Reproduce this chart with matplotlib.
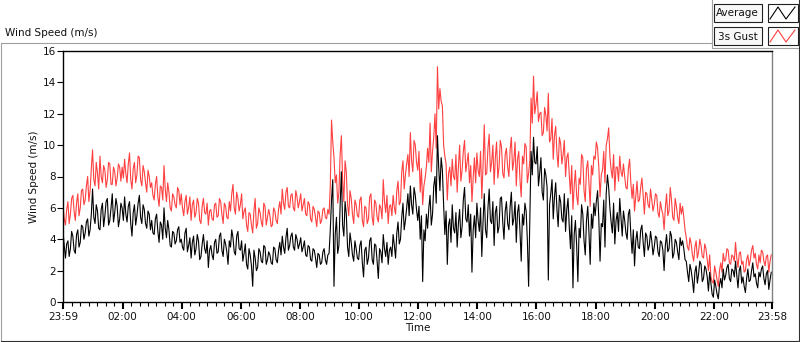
import numpy as np
import matplotlib
matplotlib.use("Agg")
import matplotlib.pyplot as plt
from matplotlib.lines import Line2D
from matplotlib.patches import Rectangle
from matplotlib.transforms import Affine2D

# samples, one row per hour (12 values, 5 min apart),
# "_a" at :59/:04/:09..., "_b" 2.5 min later
average_a = [
    4.5, 2.8, 3.9, 3.4, 4.2, 3.1, 4.6, 3.8, 4.8, 4.4, 5.3, 4.6,
    7.2, 5.0, 5.8, 4.6, 6.3, 5.5, 6.6, 5.2, 6.9, 5.7, 6.1, 5.3,
    6.0, 6.7, 5.1, 6.4, 4.2, 6.2, 5.5, 6.8, 5.0, 5.9, 4.7, 5.6,
    5.2, 4.3, 5.6, 3.8, 4.9, 6.0, 4.1, 4.6, 3.5, 4.4, 3.9, 4.8,
    4.0, 3.3, 4.7, 3.6, 2.8, 4.2, 3.4, 3.9, 2.9, 4.3, 3.1, 2.2,
    3.6, 2.7, 4.0, 3.2, 4.4, 2.9, 3.7, 2.4, 3.5, 4.1, 3.0, 4.5,
    3.3, 2.6, 3.7, 2.1, 3.0, 1.0, 2.8, 2.2, 3.2, 2.5, 3.5, 2.7,
    3.0, 2.4, 3.4, 2.5, 3.8, 4.2, 3.1, 4.7, 3.6, 4.4, 3.3, 4.0,
    3.7, 3.2, 3.9, 2.9, 3.5, 2.6, 3.3, 2.2, 3.0, 2.5, 3.4, 2.4,
    3.1, 6.5, 1.0, 5.4, 3.6, 8.3, 4.2, 5.6, 2.9, 3.8, 2.6, 3.4,
    2.7, 3.9, 1.6, 3.5, 2.8, 4.1, 2.4, 3.6, 1.5, 3.2, 4.3, 2.9,
    2.4, 3.5, 4.3, 2.8, 5.1, 4.0, 6.3, 5.2, 6.9, 7.4, 5.6, 6.8,
    5.2, 4.0, 1.3, 3.9, 4.7, 6.8, 5.6, 8.0, 10.6, 7.1, 8.4, 4.3,
    2.4, 5.3, 6.2, 4.4, 3.5, 5.9, 4.8, 7.3, 5.1, 4.2, 1.9, 5.5,
    6.3, 4.5, 2.9, 6.9, 4.1, 7.2, 5.0, 3.6, 6.1, 4.8, 6.7, 4.0,
    6.4, 4.6, 7.0, 5.3, 3.8, 6.2, 2.6, 4.9, 5.8, 1.0, 9.6, 10.5,
    8.8, 7.4, 9.2, 6.5, 8.1, 1.4, 6.9, 5.3, 7.6, 4.8, 6.4, 5.1,
    4.5, 6.6, 3.4, 0.9, 5.2, 1.3, 4.1, 5.6, 3.0, 6.1, 2.4, 4.7,
    5.5, 7.1, 2.6, 4.8, 3.5, 8.1, 6.0, 4.4, 3.7, 5.7, 6.6, 4.2,
    5.2, 4.0, 5.9, 3.1, 2.3, 4.5, 3.4, 4.9, 2.9, 4.2, 3.6, 3.9,
    3.5, 4.1, 2.9, 3.8, 2.0, 4.3, 3.4, 4.2, 3.1, 3.8, 2.7, 3.6,
    3.4, 2.6, 1.3, 2.0, 0.6, 2.3, 1.8, 2.4, 1.5, 2.1, 0.7, 1.2,
    0.3, 1.0, 0.2, 1.5, 2.1, 1.7, 2.4, 1.3, 2.0, 2.6, 0.9, 2.3,
    1.6, 0.6, 2.1, 1.4, 2.5, 1.8, 0.9, 1.6, 2.3, 1.1, 2.0, 1.4,
]
average_b = [
    3.6, 3.7, 2.9, 4.5, 3.3, 4.3, 3.5, 4.9, 4.0, 5.1, 4.2, 5.6,
    5.4, 6.2, 4.7, 5.9, 4.8, 6.4, 4.9, 6.0, 5.1, 6.6, 4.8, 6.3,
    5.2, 5.6, 6.1, 5.0, 5.7, 4.9, 6.3, 5.4, 6.2, 5.0, 5.8, 4.6,
    4.4, 5.3, 4.5, 5.1, 4.0, 4.7, 5.2, 3.6, 4.5, 3.7, 4.6, 3.8,
    3.5, 4.4, 3.2, 4.1, 3.8, 3.0, 4.3, 2.7, 3.7, 3.4, 3.9, 3.3,
    3.0, 3.8, 3.1, 4.2, 3.3, 4.0, 3.2, 3.9, 4.6, 3.2, 4.2, 3.4,
    3.9, 3.1, 2.4, 3.4, 2.3, 3.3, 2.0, 3.4, 2.6, 3.6, 2.4, 3.2,
    2.5, 3.5, 2.7, 3.3, 3.0, 3.5, 4.1, 3.3, 4.2, 3.5, 4.3, 3.4,
    4.1, 3.5, 3.0, 3.6, 2.7, 3.4, 2.8, 3.1, 2.4, 3.2, 2.7, 3.0,
    4.6, 7.8, 4.3, 3.1, 6.2, 4.9, 6.4, 3.5, 4.4, 3.0, 3.9, 2.8,
    3.6, 2.5, 3.3, 2.4, 3.9, 2.7, 3.7, 2.6, 3.4, 2.5, 3.4, 3.8,
    3.3, 2.9, 3.6, 4.4, 3.7, 5.4, 4.6, 6.0, 5.5, 6.2, 7.3, 5.9,
    6.1, 5.5, 4.6, 5.6, 6.0, 4.9, 7.4, 6.3, 8.6, 9.2, 6.2, 5.8,
    4.9, 3.8, 4.7, 5.7, 5.0, 4.1, 6.5, 5.3, 6.2, 5.6, 4.6, 4.1,
    5.2, 6.0, 5.1, 4.6, 6.0, 5.2, 6.4, 5.7, 4.4, 6.6, 5.1, 5.8,
    5.0, 6.1, 4.9, 6.4, 5.7, 4.5, 5.6, 6.3, 3.9, 5.5, 8.1, 8.9,
    9.9, 8.2, 7.0, 8.5, 7.3, 6.2, 7.8, 6.7, 5.9, 6.8, 5.3, 6.9,
    5.9, 4.8, 5.5, 4.3, 3.6, 4.7, 6.2, 3.9, 5.2, 4.4, 5.6, 6.3,
    6.4, 5.3, 5.0, 6.5, 6.9, 7.3, 5.1, 6.3, 5.2, 4.5, 5.4, 5.8,
    4.4, 5.6, 4.3, 4.6, 3.9, 3.5, 4.6, 3.8, 4.4, 3.3, 4.5, 3.0,
    4.2, 3.2, 3.9, 3.3, 3.6, 3.2, 4.5, 2.8, 4.0, 3.2, 4.1, 3.9,
    2.7, 1.9, 2.4, 1.4, 1.9, 1.2, 2.6, 1.3, 2.3, 1.6, 1.9, 0.5,
    1.4, 0.5, 1.1, 0.9, 1.4, 2.2, 1.5, 2.1, 1.6, 1.7, 2.0, 1.2,
    1.0, 1.5, 1.3, 2.0, 1.6, 1.2, 1.9, 2.1, 1.5, 1.8, 0.8, 1.9,
]
gust_a = [
    6.1, 4.9, 6.4, 5.6, 6.8, 5.2, 6.9, 6.0, 7.2, 6.5, 8.0, 7.1,
    9.7, 7.4, 8.2, 9.3, 7.6, 8.4, 7.8, 8.8, 7.5, 8.3, 7.9, 8.6,
    8.6, 9.1, 7.6, 9.5, 7.2, 8.9, 8.1, 9.2, 7.4, 8.3, 7.0, 8.0,
    7.6, 6.5, 8.0, 6.1, 7.3, 8.7, 6.4, 7.0, 5.8, 6.7, 6.0, 7.1,
    6.9, 5.5, 6.8, 6.0, 5.2, 6.5, 5.7, 6.3, 5.0, 6.6, 5.6, 4.9,
    5.9, 5.2, 6.3, 5.5, 6.4, 5.0, 6.1, 5.3, 5.8, 7.5, 5.6, 6.6,
    6.2, 5.3, 6.0, 4.5, 5.6, 4.4, 6.6, 5.0, 5.7, 4.8, 6.1, 5.4,
    5.5, 4.9, 5.8, 5.0, 6.4, 7.2, 5.9, 7.3, 6.0, 6.9, 5.8, 6.7,
    6.4, 5.8, 6.6, 5.5, 6.2, 5.1, 5.9, 4.8, 5.7, 5.2, 6.0, 5.3,
    5.6, 11.6, 9.2, 8.1, 7.0, 10.6, 6.4, 8.3, 5.5, 6.6, 5.0, 6.2,
    5.4, 6.7, 4.8, 6.0, 5.3, 6.9, 4.9, 6.3, 5.1, 6.0, 7.8, 5.7,
    5.0, 6.2, 6.8, 5.6, 7.7, 6.4, 9.0, 8.1, 9.4, 10.8, 8.3, 10.0,
    8.4, 7.0, 6.2, 7.9, 9.8, 11.4, 9.6, 12.0, 15.0, 13.6, 12.5, 9.3,
    6.5, 8.6, 9.1, 7.8, 7.0, 10.0, 8.4, 10.3, 8.9, 7.6, 6.4, 9.2,
    9.5, 8.0, 6.6, 11.3, 8.2, 10.7, 8.9, 7.5, 10.2, 8.6, 9.9, 7.9,
    9.8, 8.0, 10.5, 9.0, 7.4, 9.6, 6.7, 8.8, 9.9, 8.2, 13.0, 14.4,
    12.6, 11.5, 12.1, 10.8, 11.9, 13.3, 10.4, 9.1, 11.2, 8.6, 10.1, 9.4,
    8.0, 9.5, 6.9, 5.9, 8.4, 6.2, 7.5, 9.2, 6.4, 9.0, 6.1, 8.1,
    9.1, 9.8, 6.7, 8.4, 7.6, 10.4, 9.3, 7.9, 7.1, 8.6, 9.3, 8.0,
    8.0, 7.2, 9.1, 6.6, 5.8, 7.7, 6.5, 7.9, 5.6, 6.9, 6.0, 6.5,
    6.2, 6.8, 5.4, 5.9, 4.6, 6.9, 5.8, 6.5, 5.2, 6.1, 5.0, 5.6,
    5.4, 4.1, 3.3, 3.7, 2.6, 3.9, 3.2, 3.6, 2.8, 3.4, 2.0, 1.6,
    1.2, 1.9, 1.0, 2.5, 3.1, 2.7, 3.3, 2.4, 2.9, 3.8, 2.2, 3.2,
    2.6, 2.0, 3.0, 2.7, 3.6, 3.1, 2.1, 2.5, 3.2, 2.3, 3.0, 2.6,
]
gust_b = [
    5.3, 5.9, 5.0, 6.6, 5.8, 6.3, 5.5, 7.1, 6.2, 7.4, 6.4, 8.5,
    7.8, 8.9, 7.2, 8.0, 8.7, 7.3, 8.9, 7.5, 8.6, 7.4, 8.8, 7.7,
    7.9, 8.2, 8.8, 7.8, 8.5, 7.6, 9.3, 7.8, 8.7, 7.6, 8.4, 7.3,
    6.8, 7.5, 6.7, 7.4, 6.5, 7.2, 7.6, 6.0, 6.9, 6.2, 7.3, 6.2,
    6.0, 6.4, 5.6, 6.7, 6.2, 5.4, 6.6, 5.2, 6.1, 5.7, 6.3, 5.8,
    5.3, 6.2, 5.4, 6.6, 5.6, 6.3, 5.4, 6.4, 6.9, 6.0, 7.0, 5.8,
    6.9, 5.8, 4.9, 5.7, 4.9, 5.8, 4.7, 6.0, 5.1, 6.3, 4.9, 5.9,
    4.8, 6.0, 5.2, 5.9, 5.6, 6.3, 7.0, 6.1, 6.8, 6.0, 7.1, 6.0,
    6.9, 6.2, 5.6, 6.4, 5.3, 6.1, 5.4, 5.8, 5.0, 5.9, 5.4, 5.9,
    7.4, 10.2, 7.6, 6.3, 9.4, 7.8, 9.0, 6.2, 7.1, 5.6, 6.5, 5.5,
    6.5, 5.2, 6.1, 5.0, 6.7, 5.4, 6.5, 5.4, 6.2, 5.3, 6.4, 6.8,
    6.1, 5.5, 6.0, 7.1, 6.2, 8.3, 7.2, 8.8, 8.0, 9.0, 10.3, 8.9,
    9.6, 8.5, 7.4, 8.6, 8.9, 8.3, 10.5, 9.8, 12.3, 12.8, 10.0, 8.8,
    8.2, 7.4, 8.0, 9.4, 8.6, 7.7, 9.6, 8.3, 9.5, 8.7, 7.9, 7.6,
    8.4, 9.6, 8.7, 8.1, 9.8, 8.3, 10.0, 9.2, 7.9, 10.3, 8.2, 9.4,
    8.6, 9.7, 8.4, 10.2, 9.1, 7.8, 9.3, 10.1, 7.6, 9.0, 11.4, 12.0,
    13.4, 12.0, 10.6, 12.4, 10.9, 10.2, 11.7, 10.6, 9.5, 10.5, 8.8, 10.3,
    9.2, 8.1, 8.7, 7.4, 6.8, 7.9, 9.4, 7.1, 8.5, 7.6, 8.7, 9.3,
    10.2, 8.6, 8.1, 9.6, 10.0, 11.1, 8.4, 9.4, 8.6, 7.7, 8.3, 8.8,
    7.3, 8.5, 7.6, 7.5, 6.7, 6.4, 7.3, 6.8, 7.0, 6.2, 7.2, 5.8,
    6.9, 5.7, 6.4, 5.6, 6.0, 5.5, 7.3, 5.4, 6.6, 5.4, 6.3, 6.1,
    4.6, 3.5, 4.1, 3.0, 3.5, 2.8, 4.0, 2.9, 3.7, 2.7, 3.0, 1.3,
    2.3, 1.4, 2.0, 1.9, 2.6, 3.4, 2.5, 3.0, 2.6, 2.8, 3.1, 2.4,
    1.9, 2.7, 2.3, 3.3, 2.8, 2.4, 3.0, 3.3, 2.6, 2.9, 1.9, 3.0,
]

tick_minutes = [-1, 120, 240, 360, 480, 600, 720, 840, 960, 1080, 1200, 1320, 1438]
tick_labels = ["23:59", "02:00", "04:00", "06:00", "08:00", "10:00", "12:00",
               "14:00", "16:00", "18:00", "20:00", "22:00", "23:58"]

average = np.column_stack([average_a, average_b]).ravel()
gust = np.column_stack([gust_a, gust_b]).ravel()
# minutes after 00:00, first sample at 23:59 the day before
minutes = np.arange(len(average)) * 2.5 - 1

W, H = 800, 342
txt = "#111111"
plt.rcParams["font.family"] = ["DejaVu Sans"]

fig = plt.figure(figsize=(W / 100, H / 100), dpi=100)
fig.patch.set_facecolor("white")
pix = Affine2D().scale(1 / W, -1 / H).translate(0, 1) + fig.transFigure

# outer panel frame
fig.add_artist(Line2D([0.5, 0.5, 712], [341, 42.5, 42.5], color="#a0a0a0", lw=0.8, transform=pix))
fig.add_artist(Line2D([712, 712, 798], [0, 48, 48], color="#a0a0a0", lw=0.8, transform=pix))
fig.add_artist(Line2D([0.5, 798.5, 798.5], [340.5, 340.5, 0], color="#303030", lw=0.8, transform=pix))

# legend
legend_items = [("Average", "black", 4), ("3s Gust", "#ff4040", 27)]
for name, col, top in legend_items:
    fig.add_artist(Rectangle((713.5, top + 18), 48, -18, transform=pix, facecolor="#f8f8f8",
                             edgecolor="#202020", lw=0.8))
    fig.add_artist(Rectangle((767.5, top + 18), 30, -18, transform=pix, facecolor="white",
                             edgecolor="#202020", lw=0.8))
    fig.text(737.5 / W, 1 - (top + 9.5) / H, name, ha="center", va="center", fontsize=7.5, color=txt)
    fig.add_artist(Line2D([770, 778, 786, 795], [top + 15, top + 3, top + 15, top + 3],
                          color=col, lw=0.8, transform=pix))

fig.text(5 / W, 1 - 32.5 / H, "Wind Speed (m/s)", ha="left", va="center", fontsize=7.5, color=txt)

ax = fig.add_axes([63 / W, 1 - 302 / H, 709 / W, 251 / H])
ax.plot(minutes, gust, color="#ff4040", lw=0.8)
ax.plot(minutes, average, color="black", lw=0.8)

ax.set_xlim(-1, 1438)
ax.set_ylim(0, 16)
ax.set_yticks(range(0, 17, 2))
ax.set_xticks(tick_minutes)
ax.set_xticklabels(tick_labels)
minor = [m + j * 120 / 7 for m in range(0, 1440, 120) for j in range(1, 7) if m + j * 120 / 7 < 1438]
ax.set_xticks(minor, minor=True)
ax.tick_params(axis="both", labelsize=7.5, colors="black", labelcolor=txt, width=0.8)
ax.tick_params(axis="x", which="major", length=5, width=1.5, pad=2)
ax.tick_params(axis="x", which="minor", length=3, width=0.8)
ax.tick_params(axis="y", length=4, pad=1)
for s in ["left", "top", "bottom"]:
    ax.spines[s].set_color("black")
    ax.spines[s].set_linewidth(1)
ax.spines["right"].set_color("#808080")
ax.spines["right"].set_linewidth(1)

ax.set_ylabel("Wind Speed (m/s)", fontsize=7.5, color=txt, labelpad=3)
ax.set_xlabel("Time", fontsize=7.5, color=txt, labelpad=1)

fig.savefig("out.png", dpi=100)
